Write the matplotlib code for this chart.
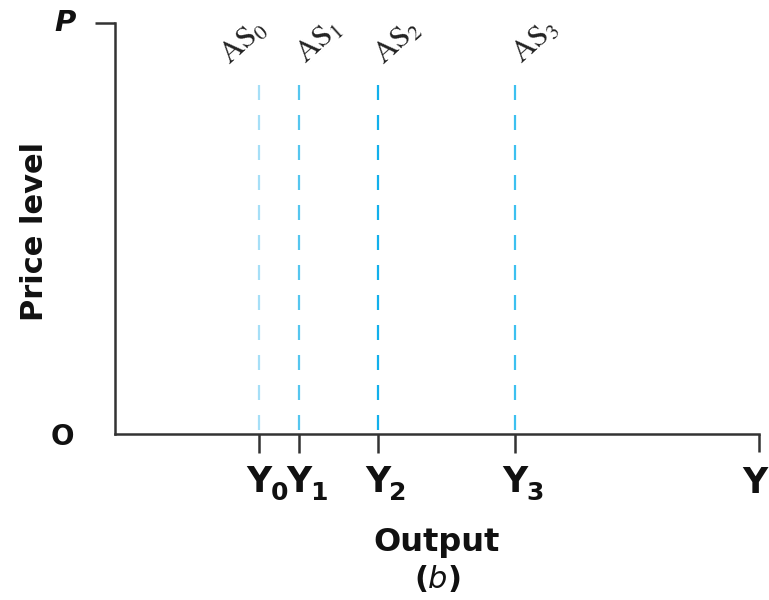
import matplotlib
matplotlib.use("Agg")
import matplotlib.pyplot as plt
from matplotlib.transforms import offset_copy

# --- data (x in percent of axis length, y in fraction of axis height) ---
curve_names = ["AS_0", "AS_1", "AS_2", "AS_3"]
curve_x = [22.4, 28.6, 40.8, 62.1]
curve_top = 0.85
tick_main = ["Y", "Y", "Y", "Y"]
tick_subs = ["0", "1", "2", "3"]
line_colors = ["#a6dff7", "#55c6ef", "#12b0ec", "#3cc0f0"]
label_shift_px = [-16, 20, 20, 20]

plt.rcParams["lines.scale_dashes"] = False
BOLD = "DejaVu Sans"
AXC = "#333333"

fig = plt.figure(figsize=(7.69, 6.0), dpi=100)
ax = fig.add_axes([115 / 769, 1 - 434 / 600, 644 / 769, 411 / 600])
ax.set_xlim(0, 100)
ax.set_ylim(0, 1)
for s in ("top", "right"):
    ax.spines[s].set_visible(False)
for s in ("left", "bottom"):
    ax.spines[s].set_color(AXC)
    ax.spines[s].set_linewidth(1.8)
ax.set_xticks([])
ax.set_yticks([])

# small stub on the P end of the price axis, and end tick on the output axis
ax.plot([-3.1, 0], [1, 1], color=AXC, lw=1.8, clip_on=False, solid_capstyle="butt")
ax.plot([100, 100], [0, -0.044], color=AXC, lw=1.8, clip_on=False, solid_capstyle="butt")

for name, x, col, dx, ym, ys in zip(curve_names, curve_x, line_colors,
                                    label_shift_px, tick_main, tick_subs):
    ax.plot([x, x], [curve_top, 0], color=col, lw=1.6, dashes=(10.8, 10.8))
    ax.plot([x, x], [0, -0.046], color=AXC, lw=1.8, clip_on=False, solid_capstyle="butt")
    tr = offset_copy(ax.transData, fig=fig, x=dx, y=0, units="dots")
    ax.text(x, 0.955, "$\\mathrm{" + name + "}$", transform=tr, rotation=42,
            ha="center", va="center", fontsize=22, math_fontfamily="stix",
            color="#222222")
    ax.text(x, -0.075, ym, ha="center", va="top", fontsize=25, fontweight="bold",
            family=BOLD, color="#111111", clip_on=False)
    trs = offset_copy(ax.transData, fig=fig, x=11, y=0, units="dots")
    ax.text(x, -0.115, ys, transform=trs, ha="left", va="top", fontsize=18,
            fontweight="bold", family=BOLD, color="#111111", clip_on=False)

# end label of the output axis, kept just inside the right edge
fig.text(768 / 769, 1 - 466 / 600, "Y", ha="right", va="top", fontsize=25,
         fontweight="bold", family=BOLD, color="#111111")

fig.text(65 / 769, 1 - 23 / 600, "P", ha="center", va="center", fontsize=21,
         fontweight="bold", fontstyle="italic", family=BOLD, color="#111111")
fig.text(62 / 769, 1 - 437 / 600, "O", ha="center", va="center", fontsize=20,
         fontweight="bold", family=BOLD, color="#111111")
fig.text(35 / 769, 1 - 231 / 600, "Price level", ha="center", va="center",
         rotation=90, fontsize=22, fontweight="bold", family=BOLD, color="#111111")
fig.text(437 / 769, 1 - 543 / 600, "Output", ha="center", va="center",
         fontsize=23, fontweight="bold", family=BOLD, color="#111111")
fig.text(437 / 769, 1 - 579 / 600, "($\\mathbf{\\mathit{b}}$)", ha="center", va="center",
         fontsize=22, fontweight="bold", family=BOLD, color="#111111",
         math_fontfamily="dejavusans")

fig.savefig("out.png", dpi=100)
